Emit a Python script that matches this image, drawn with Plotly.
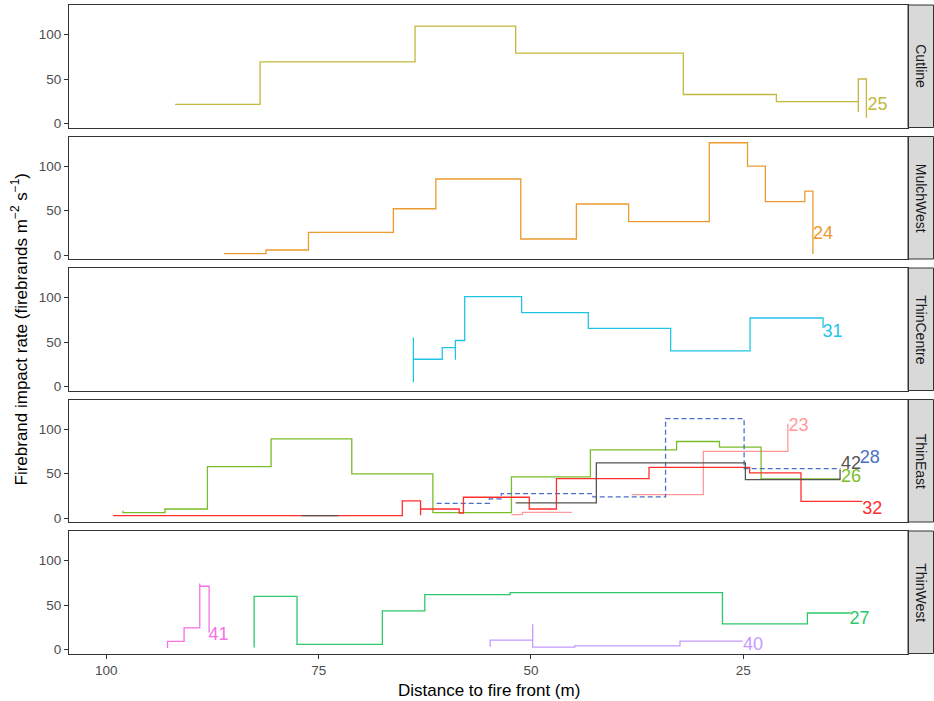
import plotly.graph_objects as go

# ---------------- data ----------------
panels = ["Cutline", "MulchWest", "ThinCentre", "ThinEast", "ThinWest"]

x_ticks = [100, 75, 50, 25]
y_ticks = [0, 50, 100]

# Cutline - run 25
s25_x = [91.9, 81.9, 63.65, 51.8, 32.06, 21.1, 11.45, 11.45, 10.5]
s25_y = [21.6, 69.3, 109.4, 79.2, 32.6, 24.6, 12.9, 50.0, 6.5]

# MulchWest - run 24
s24_x = [86.15, 81.2, 76.2, 66.2, 61.2, 51.2, 44.65, 38.5, 29.0, 24.5, 22.4, 17.75, 16.8]
s24_y = [1.5, 5.6, 25.5, 52.0, 85.4, 18.0, 57.3, 37.5, 126.2, 100.0, 60.0, 71.9, 1.1]

# ThinCentre - run 31
s31_x = [63.85, 63.85, 63.85, 60.45, 58.9, 58.9, 57.8, 51.1, 43.25, 33.55, 24.2, 15.6]
s31_y = [55.2, 4.9, 30.6, 43.8, 30.2, 51.7, 101.0, 83.0, 65.3, 40.0, 77.0, 66.0]

# ThinEast - runs 23, 26, 28, 32, 42
s23_x = [52.3, 51.0, 45.2, None, 38.15, 29.7, 19.75]
s23_y = [3.7, 6.3, 6.3, None, 26.3, 75.0, 106.0]

s26_x = [98.05, 98.05, 93.1, 88.1, 80.6, 71.1, 61.55, 52.3, 43.0, 32.85, 27.8, 22.9, 13.6]
s26_y = [8.2, 6.0, 10.1, 57.8, 89.0, 49.6, 6.0, 46.2, 76.6, 86.0, 79.6, 44.0, 44.0]

s28_x = [61.1, 54.9, 53.5, 42.7, 34.15, 24.9, 13.55]
s28_y = [16.5, 21.4, 27.4, 23.7, 111.6, 55.6, 55.6]

s32_x = [99.2, 65.15, 63.0, 63.0, 58.45, 57.95, 50.2, 47.0, 36.1, 24.25, 18.2, 10.97]
s32_y = [2.6, 19.2, 3.0, 10.1, 5.6, 23.3, 10.1, 44.3, 57.0, 50.7, 18.7, 18.7]

s42_x = [77.0, 72.7, None, 51.8, 42.3, 24.75, 13.6, 13.6]
s42_y = [2.6, 2.6, None, 16.9, 62.0, 43.2, 43.2, 54.5]

# ThinWest - runs 27, 40, 41
s27_x = [82.6, 82.6, 77.55, 67.5, 62.5, 52.45, 27.45, 17.45, 12.35]
s27_y = [2.3, 59.7, 5.7, 43.4, 61.6, 63.9, 28.9, 41.0, 41.0]

s40_x = [54.8, 54.8, 49.8, 49.8, 44.85, 32.45, 25.05]
s40_y = [3.0, 10.6, 28.5, 2.6, 4.1, 9.5, 9.5]

s41_x = [92.8, 92.8, 90.85, 89.0, 89.0, 87.9]
s41_y = [1.8, 9.1, 24.3, 74.2, 71.1, 19.0]

run_ids = ["25", "24", "31", "23", "26", "28", "32", "42", "27", "40", "41"]
run_panel = [0, 1, 2, 3, 3, 3, 3, 3, 4, 4, 4]
run_x = [s25_x, s24_x, s31_x, s23_x, s26_x, s28_x, s32_x, s42_x, s27_x, s40_x, s41_x]
run_y = [s25_y, s24_y, s31_y, s23_y, s26_y, s28_y, s32_y, s42_y, s27_y, s40_y, s41_y]
label_x = [9.2, 15.6, 14.5, 18.5, 12.3, 10.1, 9.8, 12.3, 11.3, 23.85, 86.8]
label_y = [20.5, 23.6, 61.0, 103.0, 45.0, 66.8, 9.4, 60.0, 34.2, 4.1, 15.2]

# ---------------- style ----------------
run_color = {
    "25": "#C4B83E", "24": "#EA9A2E", "31": "#22C4E6", "23": "#FF9999",
    "26": "#78BE28", "28": "#4A6FC4", "32": "#FF2E2E", "42": "#555555",
    "27": "#2CC86A", "40": "#C49BFF", "41": "#F570E6",
}
run_dash = {"28": "5px,3px"}

FONT = "Liberation Sans, Arial, sans-serif"
W, H = 934, 701
ML, MR, MT, MB = 69, 26, 5, 47
PW = W - ML - MR
PH = H - MT - MB
PANEL_H = 122.5
STEP = 131.5

fig = go.Figure()

for i, rid in enumerate(run_ids):
    p = run_panel[i] + 1
    xs = "x" if p == 1 else f"x{p}"
    ys = "y" if p == 1 else f"y{p}"
    col = run_color[rid]
    fig.add_trace(go.Scatter(
        x=run_x[i], y=run_y[i], mode="lines", xaxis=xs, yaxis=ys,
        line=dict(color=col, width=1.3, shape="hv", dash=run_dash.get(rid, "solid")),
        connectgaps=False, showlegend=False, hoverinfo="skip",
    ))

for i, rid in enumerate(run_ids):
    p = run_panel[i] + 1
    xs = "x" if p == 1 else f"x{p}"
    ys = "y" if p == 1 else f"y{p}"
    fig.add_trace(go.Scatter(
        x=[label_x[i]], y=[label_y[i]], mode="text", text=[rid],
        textposition="middle center", xaxis=xs, yaxis=ys,
        textfont=dict(family=FONT, size=18, color=run_color[rid]),
        cliponaxis=False, showlegend=False, hoverinfo="skip",
    ))

layout = dict(
    width=W, height=H,
    margin=dict(l=ML, r=MR, t=MT, b=MB),
    paper_bgcolor="white", plot_bgcolor="white",
    font=dict(family=FONT, color="#1A1A1A"),
    shapes=[], annotations=[],
)

n = len(panels)
for i, name in enumerate(panels):
    top = MT + i * STEP
    bot = top + PANEL_H
    dom = [(H - MB - bot) / PH, (H - MB - top) / PH]
    k = "" if i == 0 else str(i + 1)
    last = (i == n - 1)
    layout["xaxis" + k] = dict(
        domain=[0, 1], anchor="y" + k, range=[104.4, 5.6],
        showgrid=False, zeroline=False,
        showline=True, mirror=True, linecolor="#333333", linewidth=1,
        tickvals=x_ticks, ticks="outside" if last else "",
        ticklen=4, tickcolor="#333333",
        showticklabels=last,
        tickfont=dict(family=FONT, size=13.5, color="#4D4D4D"),
    )
    if i > 0:
        layout["xaxis" + k]["matches"] = "x"
    layout["yaxis" + k] = dict(
        domain=dom, anchor="x" + k, range=[-4.5, 133.2],
        showgrid=False, zeroline=False,
        showline=True, mirror=True, linecolor="#333333", linewidth=1,
        tickvals=y_ticks, ticks="outside", ticklen=4, tickcolor="#333333",
        tickfont=dict(family=FONT, size=13.5, color="#4D4D4D"),
    )
    # strip
    layout["shapes"].append(dict(
        type="rect", xref="paper", yref=f"y{k} domain",
        x0=1.0, x1=1.0 + 25.5 / PW, y0=0, y1=1,
        fillcolor="#D9D9D9", line=dict(color="#333333", width=1), layer="below",
    ))
    layout["annotations"].append(dict(
        text=name, xref="paper", yref=f"y{k} domain",
        x=1.0 + 13 / PW, y=0.5, textangle=90, showarrow=False,
        xanchor="center", yanchor="middle",
        font=dict(family=FONT, size=14, color="#1A1A1A"),
    ))

layout["annotations"].append(dict(
    text="Distance to fire front (m)", xref="paper", yref="paper",
    x=0.5, y=(H - MB - 690) / PH, showarrow=False,
    xanchor="center", yanchor="middle",
    font=dict(family=FONT, size=17, color="#000000"),
))
layout["annotations"].append(dict(
    text="Firebrand impact rate (firebrands m<sup>\u22122</sup> s<sup>\u22121</sup>)",
    xref="paper", yref="paper",
    x=(19 - ML) / PW, y=0.5, textangle=-90, showarrow=False,
    xanchor="center", yanchor="middle",
    font=dict(family=FONT, size=17, color="#000000"),
))

fig.update_layout(**layout)
fig.write_html(
    "out.html",
    config={"displayModeBar": False},
    post_script="document.body.style.margin='0px';document.body.style.overflow='hidden';",
)
